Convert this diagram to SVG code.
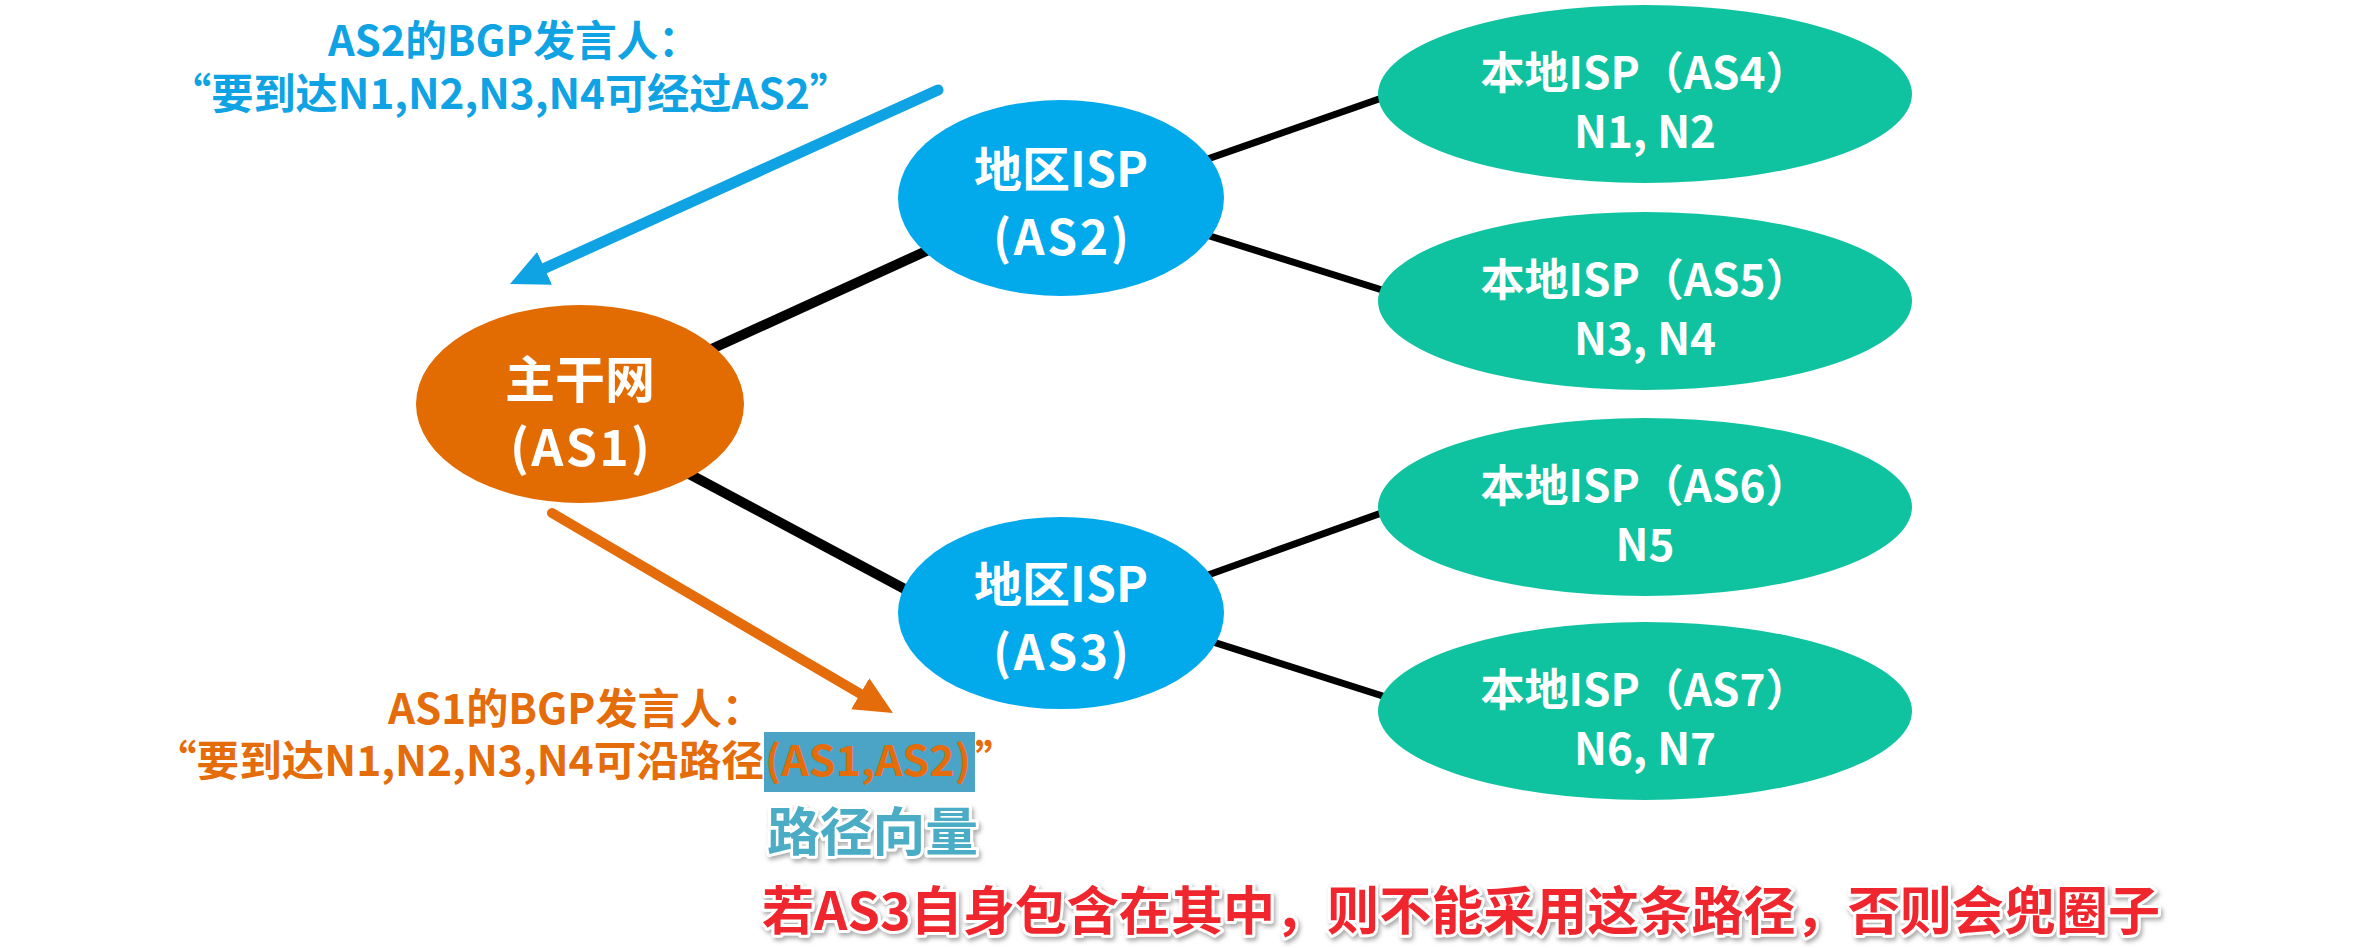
<svg xmlns="http://www.w3.org/2000/svg" width="2358" height="948" viewBox="0 0 2358 948">
<defs>
<style>
text{font-family:"Noto Sans CJK SC","Noto Sans",sans-serif;font-weight:bold;}
.nt{fill:#ffffff;text-anchor:middle;}
.blue{fill:#10A3E4;font-size:42px;}
.orange{fill:#E46C0A;font-size:42px;}
.link{stroke:#000;fill:none;}
.thick{stroke-width:10;}
.thin{stroke-width:7;}
.fx{paint-order:stroke;stroke:#ffffff;stroke-linejoin:round;}
</style>
<marker id="hb" viewBox="0 -18 38 36" refX="0" refY="0" markerWidth="38" markerHeight="36" markerUnits="userSpaceOnUse" orient="auto"><path d="M0,-18 L38,0 L0,18 z" fill="#10A3E4"/></marker>
<marker id="ho" viewBox="0 -18 38 36" refX="0" refY="0" markerWidth="38" markerHeight="36" markerUnits="userSpaceOnUse" orient="auto"><path d="M0,-18 L38,0 L0,18 z" fill="#E46C0A"/></marker>
<filter id="sh" x="-5%" y="-30%" width="110%" height="160%"><feDropShadow dx="2" dy="3" stdDeviation="2" flood-color="#777" flood-opacity="0.6"/></filter>
</defs>
<rect width="2358" height="948" fill="#ffffff"/>
<g id="connectors">
<line class="link thick" x1="670.5" y1="367.8" x2="967.5" y2="232.2"/>
<line class="link thick" x1="647" y1="451.5" x2="945" y2="610.5"/>
<line class="link thin" x1="1166" y1="173.5" x2="1429" y2="81.5"/>
<line class="link thin" x1="1165" y1="222" x2="1430" y2="305"/>
<line class="link thin" x1="1166" y1="590" x2="1429" y2="496"/>
<line class="link thin" x1="1169" y1="628" x2="1433" y2="712"/>
<path d="M938,90 L544.6,268.3" stroke="#10A3E4" stroke-width="11" stroke-linecap="round" fill="none" marker-end="url(#hb)"/>
<path d="M552,513 L860.2,693.8" stroke="#E46C0A" stroke-width="10" stroke-linecap="round" fill="none" marker-end="url(#ho)"/>
</g>
<g id="as1">
<ellipse cx="580" cy="404" rx="164" ry="99" fill="#E26B02"/>
<text class="nt" x="580" y="398" font-size="50">主干网</text>
<text class="nt" x="580" y="466" font-size="50" textLength="140" lengthAdjust="spacing">(AS1)</text>
</g>
<g id="as2">
<ellipse cx="1061" cy="198" rx="163" ry="98" fill="#02A9EB"/>
<text class="nt" x="1061" y="187" font-size="48">地区ISP</text>
<text class="nt" x="1061" y="255" font-size="48" textLength="136" lengthAdjust="spacing">(AS2)</text>
</g>
<g id="as3">
<ellipse cx="1061" cy="613" rx="163" ry="96" fill="#02A9EB"/>
<text class="nt" x="1061" y="602" font-size="48">地区ISP</text>
<text class="nt" x="1061" y="670" font-size="48" textLength="136" lengthAdjust="spacing">(AS3)</text>
</g>
<g id="as4">
<ellipse cx="1645" cy="94" rx="267" ry="89" fill="#10C3A0"/>
<text class="nt" x="1645" y="89" font-size="44">本地ISP（AS4）</text>
<text class="nt" x="1645" y="148" font-size="44">N1, N2</text>
</g>
<g id="as5">
<ellipse cx="1645" cy="301" rx="267" ry="89" fill="#10C3A0"/>
<text class="nt" x="1645" y="296" font-size="44">本地ISP（AS5）</text>
<text class="nt" x="1645" y="355" font-size="44">N3, N4</text>
</g>
<g id="as6">
<ellipse cx="1645" cy="507" rx="267" ry="89" fill="#10C3A0"/>
<text class="nt" x="1645" y="502" font-size="44">本地ISP（AS6）</text>
<text class="nt" x="1645" y="561" font-size="44">N5</text>
</g>
<g id="as7">
<ellipse cx="1645" cy="711" rx="267" ry="89" fill="#10C3A0"/>
<text class="nt" x="1645" y="706" font-size="44">本地ISP（AS7）</text>
<text class="nt" x="1645" y="765" font-size="44">N6, N7</text>
</g>
<g id="labels">
<text class="blue" x="328" y="56" textLength="372" lengthAdjust="spacingAndGlyphs">AS2的BGP发言人：</text>
<text class="blue" x="169" y="109" textLength="683" lengthAdjust="spacingAndGlyphs">“要到达N1,N2,N3,N4可经过AS2”</text>
<text class="orange" x="388" y="724" textLength="376" lengthAdjust="spacingAndGlyphs">AS1的BGP发言人：</text>
<rect x="764" y="732" width="211" height="60" fill="#4BA3C5"/>
<text class="orange" x="154" y="776" textLength="610" lengthAdjust="spacingAndGlyphs">“要到达N1,N2,N3,N4可沿路径</text>
<text class="orange" x="765" y="776" textLength="206" lengthAdjust="spacingAndGlyphs">(AS1,AS2)</text>
<text class="orange" x="975" y="776">”</text>
<text class="fx" x="767" y="851" font-size="52" fill="#4BACC6" stroke-width="6" filter="url(#sh)" textLength="211" lengthAdjust="spacingAndGlyphs">路径向量</text>
<text class="fx" x="762" y="930" font-size="52" fill="#F0282D" stroke-width="6" filter="url(#sh)" textLength="1398" lengthAdjust="spacingAndGlyphs">若AS3自身包含在其中，则不能采用这条路径，否则会兜圈子</text>
</g>
</svg>
